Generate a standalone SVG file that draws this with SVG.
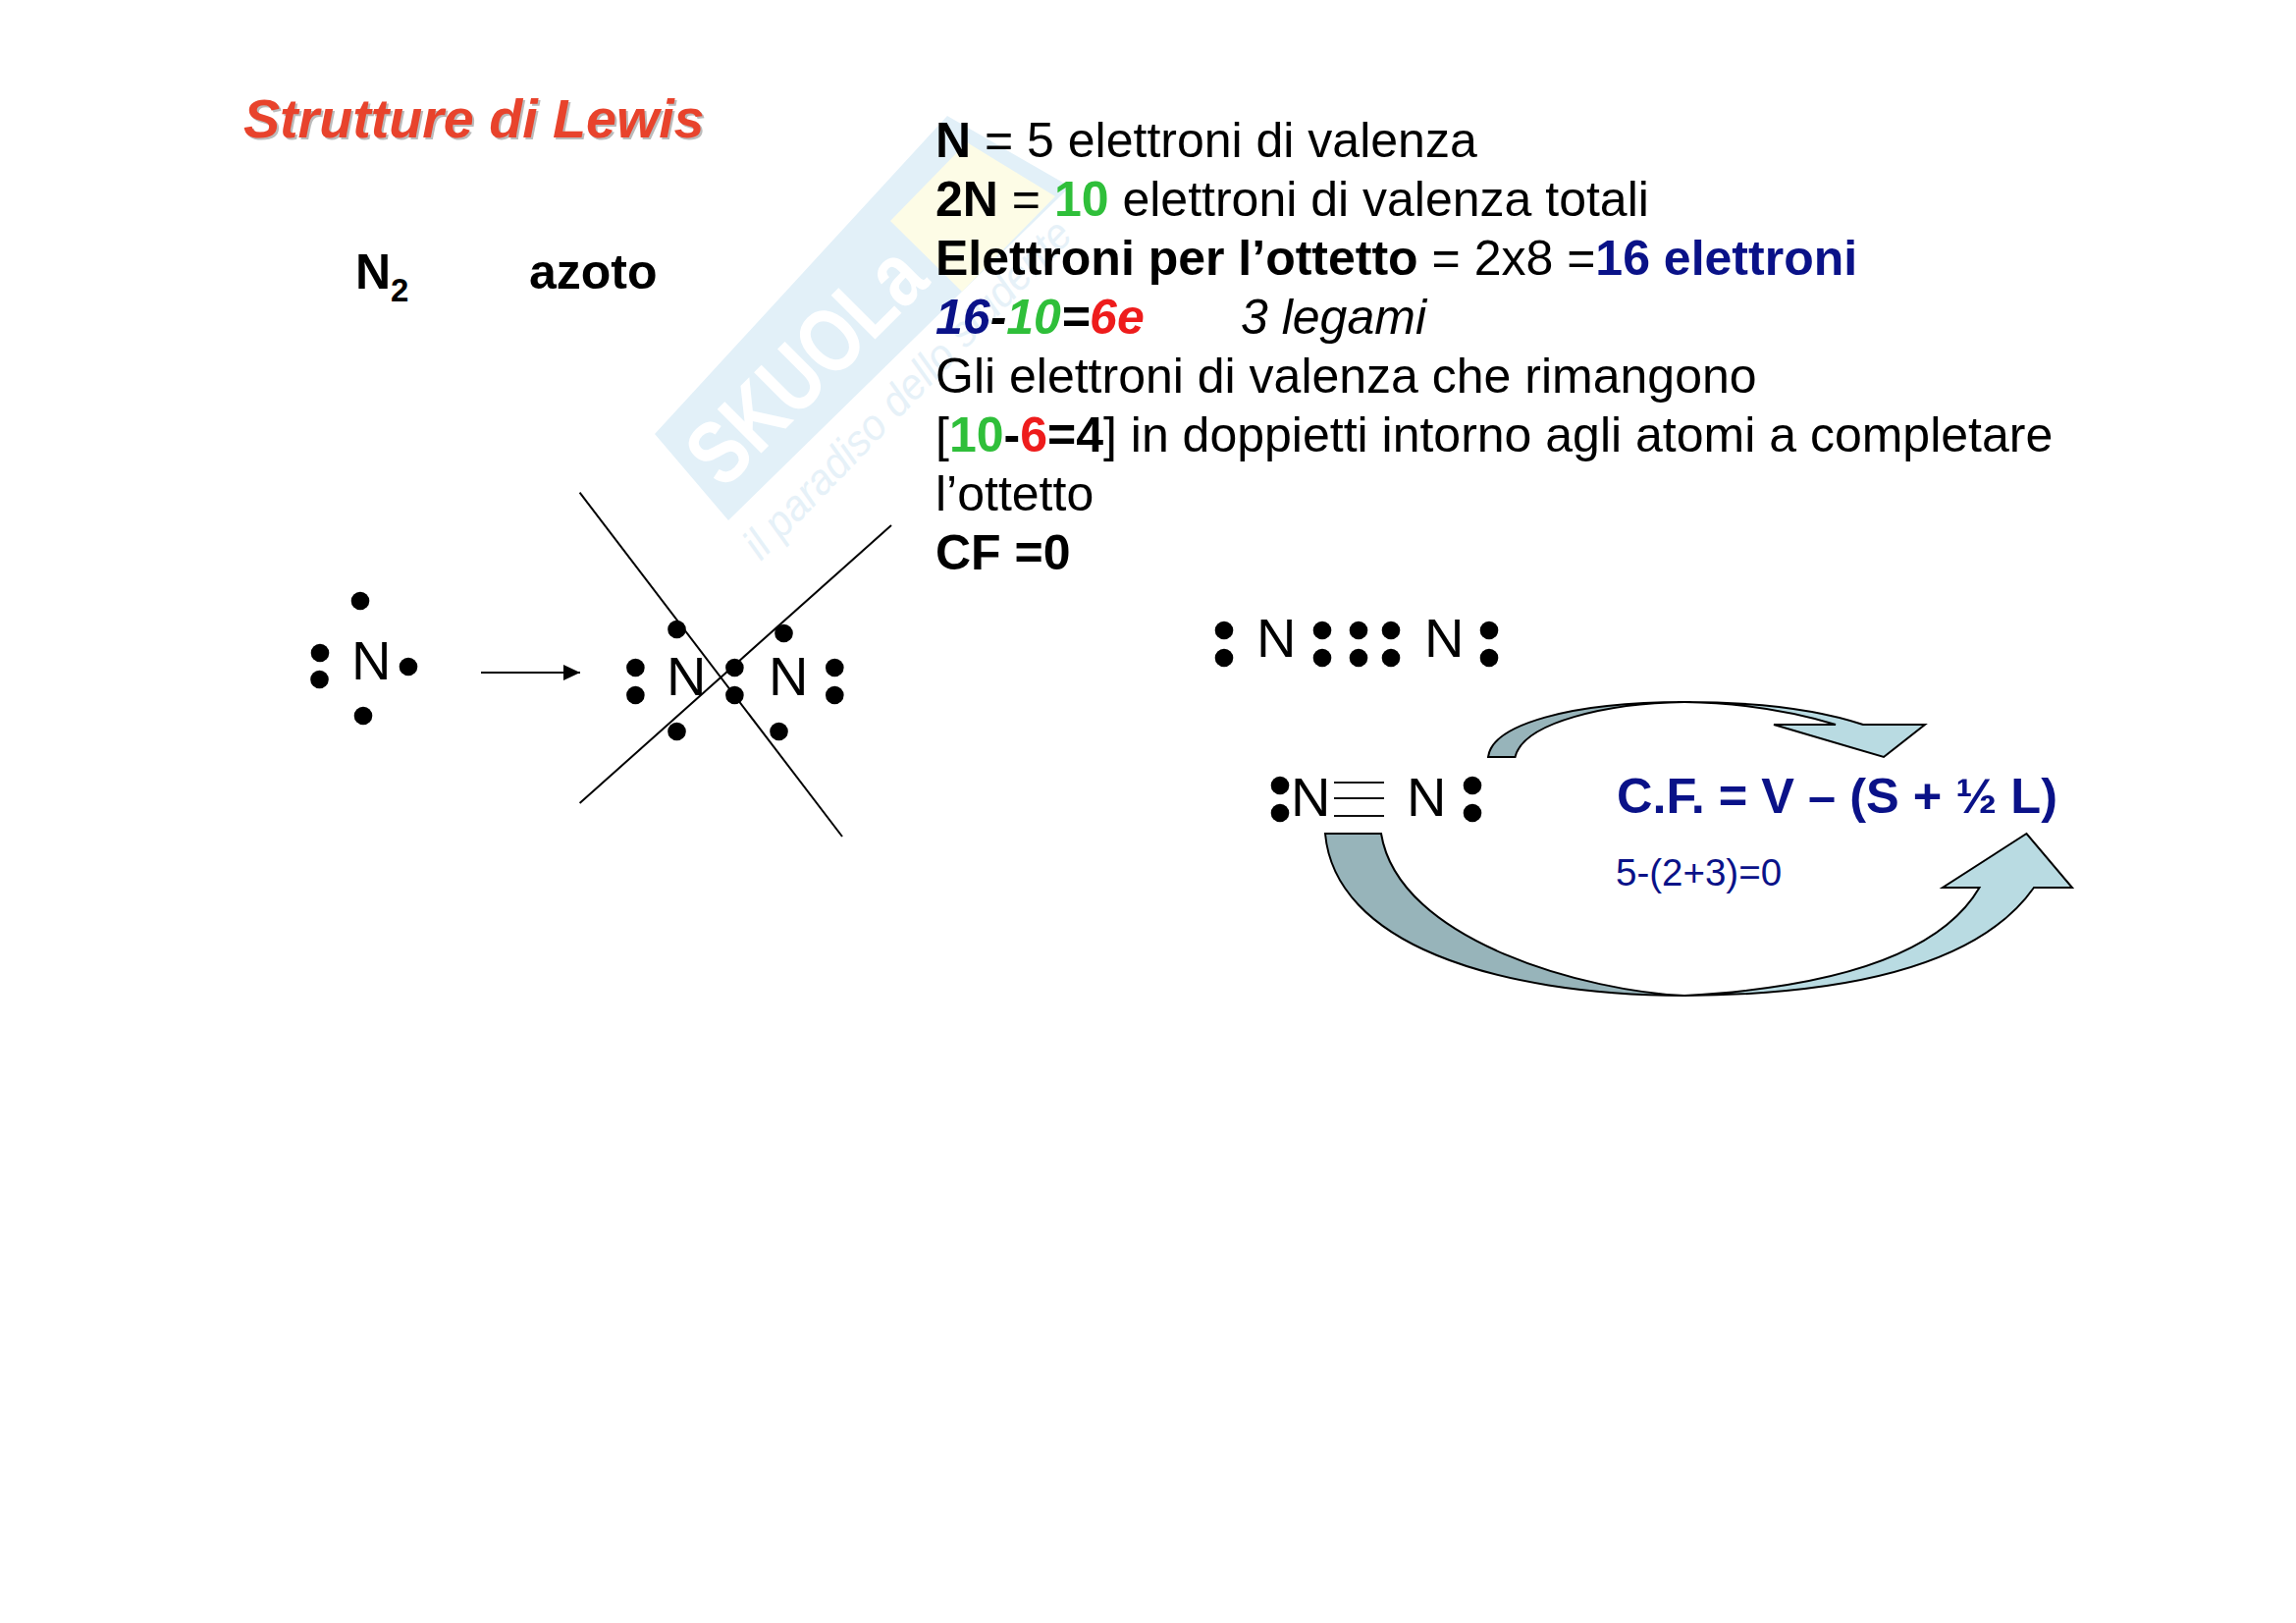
<svg xmlns="http://www.w3.org/2000/svg" width="2339" height="1653" viewBox="0 0 2339 1653">
<style>
text{font-family:"Liberation Sans",Arial,sans-serif;fill:#000}
.b{font-weight:700}
.i{font-style:italic}
.m{font-size:50px}
.at{font-size:56px}
.g{fill:#2fbf3a}
.r{fill:#ee1c1c}
.n{fill:#0a1288}
.dk{fill:#97b4ba;stroke:#000;stroke-width:2}
.lt{fill:#b9dbe2;stroke:#000;stroke-width:2;stroke-linejoin:miter}
.ln{stroke:#000;stroke-width:2;fill:none}
</style>
<defs>
<marker id="ah" markerUnits="userSpaceOnUse" markerWidth="17" markerHeight="16" refX="17" refY="8" orient="auto"><path d="M0,0L17,8L0,16Z"/></marker>
<circle id="dot" r="9.3"/>
</defs>
<rect width="2339" height="1653" fill="#fff"/>
<g id="watermark">
<path d="M667,442L965,118L1090,190L1080,200L980,297L742,530Z" fill="#e2f0f8"/>
<path d="M907,225L985,145L1075,200L980,297Z" fill="#fdfce6"/>
<text x="0" y="0" textLength="300" lengthAdjust="spacingAndGlyphs" transform="translate(737,500) rotate(-45)" style="font-size:92px;font-weight:700;fill:#fff">SKUOLa</text>
<text x="0" y="0" textLength="460" lengthAdjust="spacingAndGlyphs" transform="translate(775,572) rotate(-46)" style="font-size:44px;font-style:italic;fill:#e6f1f8">il paradiso dello studente</text>
</g>
<g id="title"><text class="b i" x="250" y="142" style="font-size:55.6px;fill:#bbb">Strutture di Lewis</text><text class="b i" x="248" y="140" style="font-size:55.6px;fill:#e8432c">Strutture di Lewis</text></g>
<g id="formula">
<text class="b m" x="362" y="294">N</text><text class="b" x="398" y="307" style="font-size:33px">2</text>
<text class="b m" x="539" y="294">azoto</text>
</g>
<g id="explanation">
<text class="m" x="953" y="160"><tspan class="b">N</tspan> = 5 elettroni di valenza</text>
<text class="m" x="953" y="220"><tspan class="b">2N</tspan> = <tspan class="b g">10</tspan> elettroni di valenza totali</text>
<text class="m" x="953" y="280"><tspan class="b">Elettroni per l’ottetto</tspan> = 2x8 =<tspan class="b n">16 elettroni</tspan></text>
<text class="m b i" x="953" y="340"><tspan class="n">16</tspan>-<tspan class="g">10</tspan>=<tspan class="r">6e</tspan></text>
<text class="m i" x="1264" y="340">3 legami</text>
<text class="m" x="953" y="400">Gli elettroni di valenza che rimangono</text>
<text class="m" x="953" y="460">[<tspan class="b g">10</tspan><tspan class="b">-</tspan><tspan class="b r">6</tspan><tspan class="b">=4</tspan>] in doppietti intorno agli atomi a completare</text>
<text class="m" x="953" y="520">l’ottetto</text>
<text class="m b" x="953" y="580">CF =0</text>
</g>
<g id="atom-n">
<text class="at" x="358" y="692">N</text>
<use href="#dot" x="367" y="612"/><use href="#dot" x="326" y="665"/><use href="#dot" x="325.5" y="692"/><use href="#dot" x="416" y="679"/><use href="#dot" x="370" y="729"/>
</g>
<g id="molecule-cross">
<text class="at" x="679" y="708">N</text><text class="at" x="783" y="708">N</text>
<use href="#dot" x="689.5" y="641"/><use href="#dot" x="798.5" y="645"/><use href="#dot" x="647.4" y="680"/><use href="#dot" x="647.4" y="708"/><use href="#dot" x="748.4" y="680"/><use href="#dot" x="748.4" y="708"/><use href="#dot" x="850.3" y="680"/><use href="#dot" x="850.3" y="708"/><use href="#dot" x="689.5" y="745"/><use href="#dot" x="793.5" y="745"/>
</g>
<g id="connectors">
<path class="ln" d="M490,685H591" marker-end="url(#ah)"/>
<path class="ln" d="M590.6,501.7L858,852"/>
<path class="ln" d="M908,535L590.6,818"/>
</g>
<g id="molecule-dots">
<text class="at" x="1280" y="669">N</text><text class="at" x="1451" y="669">N</text>
<use href="#dot" x="1247" y="642"/><use href="#dot" x="1247" y="670"/><use href="#dot" x="1347" y="642"/><use href="#dot" x="1347" y="670"/><use href="#dot" x="1384" y="642"/><use href="#dot" x="1384" y="670"/><use href="#dot" x="1417" y="642"/><use href="#dot" x="1417" y="670"/><use href="#dot" x="1517" y="642"/><use href="#dot" x="1517" y="670"/>
</g>
<g id="molecule-triple">
<text class="at" x="1315" y="831">N</text><text class="at" x="1433" y="831">N</text>
<path d="M1359,797H1410M1359,813H1410M1359,831H1410" stroke="#111" stroke-width="2" fill="none"/>
<use href="#dot" x="1304" y="800"/><use href="#dot" x="1304" y="828"/><use href="#dot" x="1500" y="800"/><use href="#dot" x="1500" y="828"/>
</g>
<g id="arrow-top">
<path class="dk" d="M1516,771C1520,738 1600,715 1716,715C1640,716 1552,735 1543.5,771Z"/>
<path class="lt" d="M1716,715C1790,715 1850,722 1898,738H1961L1919,771L1807,738H1870C1830,726 1780,716 1716,715Z"/>
</g>
<g id="arrow-bottom">
<path class="dk" d="M1350,849C1360,960 1520,1013 1716,1014C1620,1010 1425,960 1407,849Z"/>
<path class="lt" d="M1716,1014C1880,1013 2015,985 2072,904H2111L2064.5,849L1979,904H2016.5C1975,975 1860,1006 1716,1014Z"/>
</g>
<g id="formal-charge">
<text class="b n" x="1647" y="828" style="font-size:50.5px">C.F. = V – (S + ½ L)</text>
<text class="n" x="1646" y="902" style="font-size:38.5px">5-(2+3)=0</text>
</g>
</svg>
